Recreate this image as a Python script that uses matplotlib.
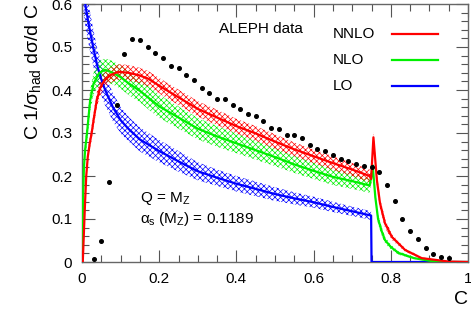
import numpy as np
import matplotlib
matplotlib.use("Agg")
import matplotlib.pyplot as plt
from matplotlib.ticker import MultipleLocator, FixedLocator

# ---------------- data ----------------
# ALEPH data points
data_C = [0.03, 0.05, 0.07, 0.09, 0.11, 0.13, 0.15, 0.17, 0.19, 0.21, 0.23, 0.25,
          0.27, 0.29, 0.31, 0.33, 0.35, 0.37, 0.39, 0.41, 0.43, 0.45, 0.47, 0.49,
          0.51, 0.53, 0.55, 0.57, 0.59, 0.61, 0.63, 0.65, 0.67, 0.69, 0.71, 0.73,
          0.75, 0.77, 0.79, 0.81, 0.83, 0.85, 0.87, 0.89, 0.91, 0.93, 0.95]
data_y = [0.007, 0.049, 0.186, 0.365, 0.484, 0.519, 0.516, 0.500, 0.486, 0.474, 0.456, 0.451,
          0.435, 0.423, 0.404, 0.393, 0.379, 0.379, 0.365, 0.356, 0.344, 0.340, 0.328, 0.312,
          0.310, 0.296, 0.295, 0.289, 0.273, 0.263, 0.259, 0.249, 0.240, 0.235, 0.228, 0.223,
          0.221, 0.209, 0.179, 0.142, 0.100, 0.072, 0.053, 0.033, 0.019, 0.012, 0.009]

# LO
lo_C = [0.003, 0.006, 0.01, 0.02, 0.03, 0.04, 0.05, 0.06, 0.07, 0.08, 0.10, 0.12, 0.15,
        0.20, 0.25, 0.30, 0.35, 0.40, 0.45, 0.50, 0.55, 0.60, 0.65, 0.70, 0.749, 0.7501, 1.0]
lo_y = [0.66, 0.62, 0.59, 0.54, 0.495, 0.455, 0.425, 0.40, 0.38, 0.36, 0.33, 0.31, 0.285,
        0.258, 0.234, 0.211, 0.196, 0.182, 0.170, 0.158, 0.148, 0.139, 0.128, 0.118, 0.108, 0.0, 0.0]
lo_err = [0.06, 0.055, 0.05, 0.046, 0.043, 0.040, 0.038, 0.036, 0.034, 0.033, 0.031, 0.029, 0.028,
          0.026, 0.024, 0.021, 0.019, 0.018, 0.017, 0.016, 0.014, 0.013, 0.012, 0.011, 0.010, 0.0, 0.0]

# NLO
nlo_C = [0.0, 0.001, 0.003, 0.005, 0.008, 0.013, 0.021, 0.03, 0.045, 0.06, 0.08, 0.10, 0.12,
         0.15, 0.20, 0.25, 0.30, 0.35, 0.40, 0.45, 0.50, 0.55, 0.60, 0.65, 0.70, 0.745,
         0.750, 0.753, 0.760, 0.767, 0.777, 0.785, 0.80, 0.82, 0.86, 0.90, 0.93, 1.0]
nlo_y = [0.0, 0.05, 0.15, 0.22, 0.26, 0.30, 0.375, 0.415, 0.44, 0.447, 0.44, 0.43, 0.416,
         0.398, 0.362, 0.336, 0.310, 0.292, 0.276, 0.260, 0.244, 0.227, 0.212, 0.198, 0.188, 0.178,
         0.20, 0.225, 0.15, 0.10, 0.07, 0.051, 0.035, 0.021, 0.009, 0.003, 0.0, 0.0]
nlo_err = [0.0, 0.005, 0.012, 0.018, 0.02, 0.022, 0.025, 0.026, 0.027, 0.027, 0.027, 0.027, 0.027,
           0.027, 0.027, 0.026, 0.025, 0.024, 0.023, 0.022, 0.021, 0.020, 0.019, 0.019, 0.018, 0.017,
           0.015, 0.012, 0.012, 0.012, 0.010, 0.008, 0.006, 0.004, 0.002, 0.001, 0.0, 0.0]

# NNLO
nnlo_C = [0.0, 0.002, 0.005, 0.008, 0.011, 0.015, 0.02, 0.025, 0.03, 0.038, 0.047, 0.055,
          0.065, 0.075, 0.09, 0.10, 0.12, 0.145, 0.17, 0.20, 0.25, 0.30, 0.35, 0.40, 0.45,
          0.50, 0.55, 0.60, 0.65, 0.70, 0.745, 0.749, 0.755, 0.764, 0.772, 0.785, 0.803,
          0.837, 0.88, 0.95, 1.0]
nnlo_y = [0.0, 0.0, 0.07, 0.14, 0.20, 0.245, 0.275, 0.30, 0.33, 0.375, 0.405, 0.418,
          0.428, 0.435, 0.441, 0.442, 0.44, 0.435, 0.427, 0.410, 0.383, 0.356, 0.336, 0.316, 0.299,
          0.280, 0.262, 0.246, 0.230, 0.215, 0.200, 0.193, 0.29, 0.19, 0.137, 0.09, 0.058,
          0.028, 0.009, 0.001, 0.0]
nnlo_err = [0.0, 0.0, 0.006, 0.01, 0.012, 0.014, 0.015, 0.016, 0.017, 0.018, 0.018, 0.018,
            0.018, 0.018, 0.018, 0.018, 0.018, 0.018, 0.018, 0.018, 0.018, 0.018, 0.018, 0.017, 0.017,
            0.017, 0.016, 0.016, 0.016, 0.015, 0.015, 0.012, 0.012, 0.015, 0.013, 0.010, 0.007,
            0.004, 0.002, 0.0, 0.0]

xticks = [0, 0.2, 0.4, 0.6, 0.8, 1]
xtick_labels = ["0", "0.2", "0.4", "0.6", "0.8", "1"]
yticks = [0, 0.1, 0.2, 0.3, 0.4, 0.5, 0.6]
ytick_labels = ["0", "0.1", "0.2", "0.3", "0.4", "0.5", "0.6"]
legend_labels = ["NNLO", "NLO", "LO"]

# ---------------- plot ----------------
plt.rcParams['font.family'] = ['Liberation Sans', 'DejaVu Sans']
plt.rcParams['hatch.linewidth'] = 0.5
plt.rcParams['mathtext.fontset'] = 'custom'
plt.rcParams['mathtext.rm'] = 'Liberation Sans'
plt.rcParams['mathtext.it'] = 'Liberation Sans'

fig = plt.figure(figsize=(4.71, 3.12), dpi=100)
ax = fig.add_axes([82/471, 1-262/312, (468-82)/471, (262-4)/312])

colors = {'LO': '#0000ff', 'NLO': '#00f000', 'NNLO': '#ff0000'}
series = [
    (lo_C, lo_y, lo_err, 'LO'),
    (nlo_C, nlo_y, nlo_err, 'NLO'),
    (nnlo_C, nnlo_y, nnlo_err, 'NNLO'),
]
for Cv, yv, ev, lab in series:
    col = colors[lab]
    Cv = np.array(Cv); yv = np.array(yv); ev = np.array(ev)
    ax.fill_between(Cv, yv - ev, yv + ev, facecolor='none', edgecolor=col,
                    hatch='xxxxxx', linewidth=0, zorder=2)
    ax.plot(Cv, yv, color=col, lw=1.6, zorder=3)

ax.plot(data_C, data_y, 'o', color='black', ms=2.6, zorder=5)

ax.set_xlim(0, 1)
ax.set_ylim(0, 0.6)
ax.xaxis.set_major_locator(FixedLocator(xticks))
ax.set_xticklabels(xtick_labels)
ax.yaxis.set_major_locator(FixedLocator(yticks))
ax.set_yticklabels(ytick_labels)
ax.xaxis.set_minor_locator(MultipleLocator(0.05))
ax.yaxis.set_minor_locator(MultipleLocator(0.02))
ax.tick_params(which='both', direction='in', top=True, right=True, labelsize=11,
               color='#555555', width=0.8)
ax.tick_params(which='major', length=9, pad=7)
ax.tick_params(which='minor', length=5)
for s in ax.spines.values():
    s.set_color('#666666')
    s.set_linewidth(1.0)

ax.set_ylabel(r'C 1/$\sigma_{\rm had}$ d$\sigma$/d C', fontsize=14, loc='top', labelpad=6)
ax.set_xlabel('C', fontsize=14, loc='right', labelpad=4)

ax.text(0.354, 0.905, 'ALEPH data', transform=ax.transAxes, fontsize=11, va='center')

# legend (manual, left-aligned text with line samples on the right)
leg_y = [0.884, 0.783, 0.682]
for lab, yy in zip(legend_labels, leg_y):
    ax.text(0.650, yy, lab, transform=ax.transAxes, fontsize=11, va='center', ha='left')
    ax.plot([0.803, 0.922], [yy, yy], transform=ax.transAxes, color=colors[lab], lw=1.6,
            zorder=6, clip_on=False)

ax.text(0.15, 0.245, r'Q = M$_{\rm Z}$', transform=ax.transAxes, fontsize=11, va='center')
ax.text(0.15, 0.165, r'$\alpha_{\rm s}$ (M$_{\rm Z}$) = 0.1189', transform=ax.transAxes,
        fontsize=11, va='center')

fig.savefig('out.png', dpi=100)
